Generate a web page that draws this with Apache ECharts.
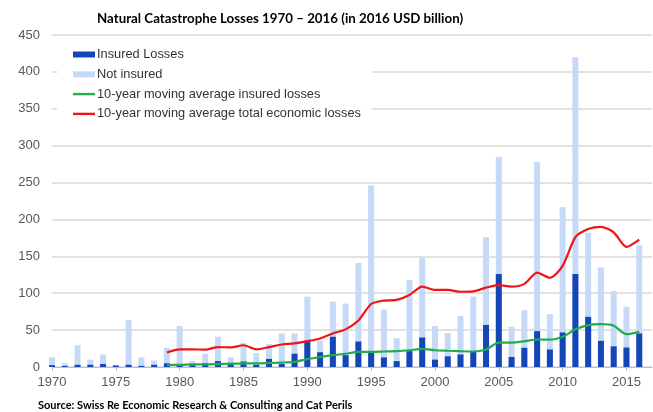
<!DOCTYPE html>
<html>
<head>
<meta charset="utf-8" />
<script src="https://cdn.jsdelivr.net/npm/echarts@6/dist/echarts.min.js"></script>
<style>
  html, body { margin: 0; padding: 0; background: #fff; }
  #chart { width: 653px; height: 412px; }
</style>
</head>
<body>
<div id="chart"></div>
<script>
// years on the category axis (2017 is only there as an empty slot at the right edge)
const years = [
  "1970", "1971", "1972", "1973", "1974", "1975", "1976", "1977", "1978", "1979",
  "1980", "1981", "1982", "1983", "1984", "1985", "1986", "1987", "1988", "1989",
  "1990", "1991", "1992", "1993", "1994", "1995", "1996", "1997", "1998", "1999",
  "2000", "2001", "2002", "2003", "2004", "2005", "2006", "2007", "2008", "2009",
  "2010", "2011", "2012", "2013", "2014", "2015", "2016", "2017",
];

// total economic losses (top of light bar), USD bn
const totalLosses = [
  13, 5, 29.5, 10, 17, 3, 63.5, 13, 8.7, 26,
  55.5, 8, 18, 41, 13, 32.7, 19, 31, 45.5, 45.5,
  95.4, 36, 88.6, 86, 141, 246, 78, 39, 118, 147.5,
  55.5, 46, 69, 95.4, 176, 285, 54.5, 77, 278, 71.8,
  216.6, 420, 182, 135, 103, 81.7, 165,
];

// insured losses (dark bar)
const insuredLosses = [
  2.5, 1.5, 3, 3, 4, 2, 3, 1.5, 3, 5,
  3, 2.5, 5, 8, 4, 7.5, 3, 11, 4, 18,
  34, 20, 41, 16, 34.5, 20.5, 13, 8, 21.5, 40,
  10, 14.5, 17, 20.5, 57, 126, 13.6, 26, 48.6, 23.7,
  46.8, 126, 68, 35.4, 28, 26.4, 45.5,
];

// 10-year moving averages, starting 1979
const avgInsured = [
  null, null, null, null, null, null, null, null, null, 3,
  3, 3.5, 3.5, 4, 4.5, 5, 5, 5.5, 6, 7,
  10.5, 13.6, 16, 18, 20.5, 20.5, 21, 21.5, 22.7, 24.5,
  22.7, 22, 21.4, 21, 23.7, 33, 33, 35, 37.3, 37,
  41, 51, 56.8, 58, 56, 44.5, 47.7,
];

const avgTotal = [
  null, null, null, null, null, null, null, null, null, 19.6,
  24, 24, 23.5, 27, 26.5, 29.5, 24, 27, 30.5, 32,
  35, 38.7, 45.5, 51, 63, 85.4, 90, 91, 97.7, 109,
  104.5, 104.5, 102, 102.5, 107.6, 111, 109, 112.7, 128, 121,
  137, 176, 187, 190, 182.6, 162.7, 172.6,
];

const yTicks = { min: 0, max: 450, step: 50 };

// thin bar used as the legend icon for the two lines
const lineIcon = "path://M0,0H22V2.4H0Z";

const chart = echarts.init(document.getElementById("chart"));

const option = {
  animation: false,
  title: [
    {
      text: "Natural Catastrophe Losses 1970 \u2013 2016 (in 2016 USD billion)",
      left: 92,
      top: 7,
      textStyle: {
        fontFamily: "Lato",
        fontWeight: "bold",
        fontSize: 13.3,
        color: "#000",
      },
    },
    {
      text: "{b|Source:} Swiss Re Economic Research & Consulting and Cat Perils",
      left: 33,
      top: 395,
      textStyle: {
        fontFamily: "Lato",
        fontSize: 11,
        color: "#000",
        rich: {
          b: { fontFamily: "Lato", fontSize: 11, fontWeight: "bold", color: "#000" },
        },
      },
    },
  ],
  legend: {
    orient: "vertical",
    left: 57,
    top: 42,
    padding: [6, 11, 8, 16],
    backgroundColor: "#fff",
    itemWidth: 22,
    itemHeight: 6,
    itemGap: 6.8,
    textStyle: {
      fontFamily: "Liberation Sans",
      fontSize: 12.8,
      color: "#333",
      padding: [0, 0, 0, -3],
    },
    data: [
      { name: "Insured Losses", icon: "rect" },
      { name: "Not insured", icon: "rect" },
      { name: "10-year moving average insured losses", icon: lineIcon },
      { name: "10-year moving average total economic losses", icon: lineIcon },
    ],
  },
  grid: {
    left: 52,
    right: 1,
    top: 35,
    bottom: 45,
  },
  xAxis: {
    type: "category",
    data: years,
    boundaryGap: false,
    axisLine: { lineStyle: { color: "#bfbfbf", width: 1 } },
    axisTick: {
      interval: 4,
      length: 4,
      lineStyle: { color: "#bfbfbf" },
    },
    axisLabel: {
      interval: 4,
      margin: 9,
      fontFamily: "Liberation Sans",
      fontSize: 13,
      color: "#595959",
    },
  },
  yAxis: {
    type: "value",
    min: yTicks.min,
    max: yTicks.max,
    interval: yTicks.step,
    axisLine: { show: false },
    axisTick: { show: false },
    splitLine: { lineStyle: { color: "#d9d9d9", width: 1.5 } },
    axisLabel: {
      margin: 12,
      fontFamily: "Liberation Sans",
      fontSize: 13,
      color: "#595959",
    },
  },
  series: [
    {
      name: "Not insured",
      type: "bar",
      data: totalLosses,
      barWidth: 6,
      itemStyle: { color: "#c6d9f6" },
    },
    {
      name: "Insured Losses",
      type: "bar",
      data: insuredLosses,
      barWidth: 6,
      barGap: "-100%",
      itemStyle: { color: "#1446b8" },
    },
    {
      name: "10-year moving average insured losses",
      type: "line",
      data: avgInsured,
      symbol: "none",
      smooth: 0.25,
      lineStyle: { color: "#1fae4b", width: 2.2 },
      itemStyle: { color: "#1fae4b" },
      z: 3,
    },
    {
      name: "10-year moving average total economic losses",
      type: "line",
      data: avgTotal,
      symbol: "none",
      smooth: 0.25,
      lineStyle: { color: "#f01414", width: 2.2 },
      itemStyle: { color: "#f01414" },
      z: 4,
    },
  ],
};

chart.setOption(option);
</script>
</body>
</html>
